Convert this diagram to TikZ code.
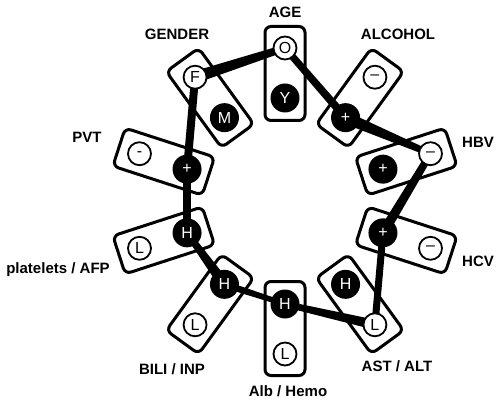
\documentclass[tikz,border=0pt]{standalone}
\usepackage{fontspec}
\setmainfont{Liberation Sans}
\usetikzlibrary{calc}
\pgfdeclarelayer{bg}
\pgfdeclarelayer{mid}
\pgfsetlayers{bg,mid,main}
\newcommand\tapseg[4]{\fill ($(#1.center)!#3!90:(#2.center)$) -- ($(#2.center)!#4!-90:(#1.center)$) -- ($(#2.center)!#4!90:(#1.center)$) -- ($(#1.center)!#3!-90:(#2.center)$) -- cycle;}
\begin{document}
\begin{tikzpicture}[x=1pt,y=1pt,
  panel/.style={draw, line width=3pt, rounded corners=6pt, minimum width=94pt, minimum height=40pt, inner sep=0pt},
  wc/.style={circle, draw, line width=1.8pt, fill=white, minimum size=23pt, inner sep=0pt, font=\fontsize{16}{16}\selectfont},
  bc/.style={circle, fill=black, text=white, minimum size=29pt, inner sep=0pt, font=\fontsize{16}{16}\selectfont},
  lab/.style={anchor=base, font=\fontsize{15}{15}\selectfont\bfseries}]
\useasboundingbox (0,0) rectangle (500,407);
\begin{scope}[shift={(285,206)}]
  \begin{pgfonlayer}{bg}
    \node[panel, rotate=90]  (bAge) at (90:127.5) {};
    \node[panel, rotate=54]  (bAlc) at (54:127.5) {};
    \node[panel, rotate=18]  (bHbv) at (18:127.5) {};
    \node[panel, rotate=-18] (bHcv) at (-18:127.5) {};
    \node[panel, rotate=-54] (bAst) at (-54:127.5) {};
    \node[panel, rotate=-90] (bAlb) at (-90:127.5) {};
    \node[panel, rotate=234] (bBil) at (234:127.5) {};
    \node[panel, rotate=198] (bPla) at (198:127.5) {};
    \node[panel, rotate=162] (bPvt) at (162:127.5) {};
    \node[panel, rotate=126] (bGen) at (126:127.5) {};
  \end{pgfonlayer}
  % circles
  \node[wc] (ageO) at (90:153) {O};
  \node[bc] (ageI) at (90:103) {Y};
  \node[wc] (alcO) at (54:153) {\raisebox{-1pt}{–}};
  \node[bc] (alcI) at (54:103) {+};
  \node[wc] (hbvO) at (18:153) {\raisebox{-1pt}{–}};
  \node[bc] (hbvI) at (18:103) {+};
  \node[wc] (hcvO) at (-18:153) {\raisebox{-1pt}{–}};
  \node[bc] (hcvI) at (-18:103) {+};
  \node[wc] (astO) at (-54:153) {L};
  \node[bc] (astI) at (-54:103) {H};
  \node[wc] (albO) at (-90:153) {L};
  \node[bc] (albI) at (-90:103) {H};
  \node[wc] (bilO) at (234:153) {L};
  \node[bc] (bilI) at (234:103) {H};
  \node[wc] (plaO) at (198:153) {L};
  \node[bc] (plaI) at (198:103) {H};
  \node[wc] (pvtO) at (162:153) {-};
  \node[bc] (pvtI) at (162:103) {+};
  \node[wc] (genO) at (126:153) {F};
  \node[bc] (genI) at (126:103) {M};
  % path
  \begin{pgfonlayer}{mid}
    \tapseg{genO}{ageO}{6pt}{3.5pt}
    \tapseg{ageO}{alcI}{3.5pt}{4pt}
    \tapseg{alcI}{hbvO}{6pt}{3pt}
    \tapseg{hbvO}{hcvI}{3.5pt}{5pt}
    \tapseg{hcvI}{astO}{3.5pt}{3.5pt}
    \tapseg{astO}{albI}{5pt}{3pt}
    \tapseg{albI}{bilI}{2.5pt}{3.5pt}
    \tapseg{bilI}{plaI}{5.5pt}{3pt}
    \tapseg{plaI}{pvtI}{4pt}{4pt}
    \tapseg{pvtI}{genO}{4pt}{4pt}
  \end{pgfonlayer}
\end{scope}
% labels
\node[lab] (lAge) at (285,389.5) {AGE};
\node[lab] (lGen) at (177,367) {GENDER};
\node[lab] (lAlc) at (398,367) {ALCOHOL};
\node[lab] (lHbv) at (478,259) {HBV};
\node[lab] (lHcv) at (478,140) {HCV};
\node[lab] (lAst) at (397,36) {AST / ALT};
\node[lab] (lAlb) at (288,11) {Alb / Hemo};
\node[lab] (lBil) at (172,33) {BILI / INP};
\node[lab] (lPla) at (58,134) {platelets / AFP};
\node[lab] (lPvt) at (87,264) {PVT};
\end{tikzpicture}
\end{document}
